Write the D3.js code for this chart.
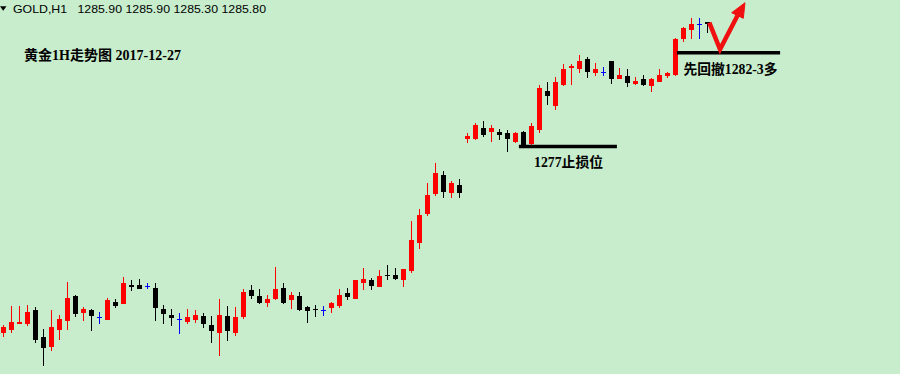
<!DOCTYPE html>
<html>
<head>
<meta charset="utf-8">
<script src="https://cdn.jsdelivr.net/npm/d3@7"></script>
<style>
html,body{margin:0;padding:0;background:#c7edcc;}
svg{display:block;}
</style>
</head>
<body>
<svg id="chart" width="900" height="374"></svg>
<script>
// ---- data (GOLD H1) ----
const symbol = "GOLD,H1";
const lastBar = ["1285.90", "1285.90", "1285.30", "1285.80"];
const title = "黄金1H走势图 2017-12-27";
const stopLabel = "1277止损位";
const buyLabel = "先回撤1282-3多";

const opens = [1268.15,1268.30,1268.66,1268.65,1269.45,1267.89,1267.31,1268.30,1268.82,1270.26,
1269.26,1269.45,1269.06,1268.87,1269.92,1269.81,1270.89,1270.87,1270.83,1270.70,
1269.49,1269.16,1268.91,1268.78,1268.87,1269.10,1268.59,1268.15,1269.10,1268.15,
1269.03,1270.59,1270.25,1269.83,1270.07,1270.70,1270.02,1270.25,1269.63,1269.50,
1269.45,1269.54,1269.67,1270.43,1270.07,1270.97,1271.16,1270.78,1271.46,1271.46,
1271.16,1271.69,1273.29,1274.93,1276.07,1277.16,1276.15,1276.59,1279.20,1279.22,
1279.83,1279.60,1279.63,1279.58,1279.03,1279.63,1278.93,1279.73,1281.98,1281.10,
1282.30,1283.27,1283.22,1283.79,1282.97,1283.03,1283.65,1282.65,1282.82,1282.34,
1282.63,1282.26,1282.49,1282.82,1282.87,1284.91,1285.45,1285.79,1285.90];
const highs = [1268.59,1269.69,1269.69,1269.73,1269.60,1268.34,1269.45,1269.16,1271.06,1270.30,
1269.60,1269.50,1269.35,1270.11,1270.07,1271.31,1271.16,1271.22,1271.01,1271.01,
1269.73,1269.49,1269.26,1269.49,1269.45,1269.29,1269.10,1270.06,1269.69,1269.63,
1270.64,1270.87,1270.63,1270.30,1271.89,1271.01,1270.46,1270.46,1269.67,1269.73,
1269.67,1269.92,1270.63,1270.69,1271.18,1271.83,1271.29,1271.73,1272.02,1271.83,
1271.80,1274.55,1275.20,1276.69,1277.86,1277.39,1276.82,1276.93,1279.54,1280.15,
1280.25,1280.02,1279.77,1279.73,1279.63,1279.65,1280.11,1282.30,1282.49,1282.74,
1283.50,1283.50,1284.02,1283.92,1283.58,1283.35,1283.69,1283.26,1283.20,1282.78,
1282.87,1282.72,1283.20,1283.06,1284.97,1285.63,1286.11,1286.11,1285.90];
const lows = [1267.92,1268.15,1268.63,1268.55,1267.54,1266.25,1267.12,1267.73,1268.30,1269.06,
1268.82,1268.25,1268.65,1268.85,1269.54,1269.80,1270.53,1270.65,1270.63,1268.82,
1268.65,1268.53,1268.07,1268.65,1268.72,1268.43,1267.54,1266.82,1267.67,1267.96,
1268.91,1270.06,1269.79,1269.63,1270.02,1269.79,1269.50,1269.41,1268.69,1269.06,
1269.10,1269.29,1269.58,1270.02,1270.05,1270.59,1270.59,1270.76,1271.16,1271.16,
1270.78,1271.58,1272.91,1274.83,1275.96,1275.83,1275.83,1275.83,1279.01,1279.16,
1279.31,1279.06,1279.16,1278.49,1278.97,1278.80,1278.87,1279.58,1281.13,1280.87,
1282.26,1282.30,1282.97,1282.69,1282.83,1282.82,1282.34,1282.63,1282.21,1282.30,
1282.26,1281.92,1282.46,1282.69,1282.82,1284.78,1284.91,1284.91,1285.30];
const closes = [1268.49,1268.76,1268.78,1269.35,1267.73,1267.29,1268.49,1268.93,1270.15,1269.22,
1269.50,1269.12,1269.06,1270.02,1269.69,1271.01,1270.78,1270.66,1270.83,1269.58,
1269.22,1269.01,1268.91,1269.06,1269.16,1268.65,1268.25,1269.16,1268.26,1269.06,
1270.49,1270.26,1269.83,1270.07,1270.64,1269.83,1270.32,1269.45,1269.41,1269.43,
1269.45,1269.86,1270.30,1270.17,1271.16,1271.22,1270.83,1271.41,1271.39,1271.22,
1271.79,1273.44,1274.87,1276.02,1277.29,1276.21,1276.72,1276.11,1279.39,1280.02,
1279.45,1279.83,1279.45,1279.20,1279.54,1278.82,1279.98,1282.11,1281.67,1282.49,
1283.22,1283.39,1283.69,1283.06,1283.22,1283.03,1282.63,1282.87,1282.43,1282.55,
1282.30,1282.65,1282.87,1282.97,1284.91,1285.54,1285.79,1285.79,1285.80];

// annotation levels (price) and spans (bar index)
const stopLevel = 1278.79, stopSpan = [64.45, 76.7];
const buyLevel = 1284.15, buySpan = [84.2, 97.1];
const arrowShaft = [[88.25,1285.86],[89.59,1284.34],[91.78,1286.27]];
const arrowHead = [[91.05,1286.43],[92.71,1287.00],[92.50,1286.11]];

// ---- drawing ----
const W = 900, H = 374;
const svg = d3.select("#chart");
svg.append("rect").attr("width", W).attr("height", H).attr("fill", "#c7edcc");

const x = d3.scaleLinear().domain([0, 88]).range([3.3, 707.3]);
const y = d3.scaleLinear().domain([1264, 1286]).range([405.25, 20.25]);

const bars = opens.map((o, i) => ({i, o, h: highs[i], l: lows[i], c: closes[i]}));
const colorOf = d => d.c > d.o ? "#ff0000" : (d.c < d.o ? "#000000" : "#0000ff");

const g = svg.append("g").attr("shape-rendering", "crispEdges");
const cw = 5;
g.selectAll("line.wick").data(bars).join("line")
  .attr("class", "wick")
  .attr("x1", d => Math.round(x(d.i)) + 0.5).attr("x2", d => Math.round(x(d.i)) + 0.5)
  .attr("y1", d => y(d.h)).attr("y2", d => y(d.l))
  .attr("stroke", colorOf).attr("stroke-width", 1);
g.selectAll("rect.body").data(bars).join("rect")
  .attr("class", "body")
  .attr("x", d => Math.round(x(d.i)) - 2)
  .attr("width", cw)
  .attr("y", d => y(Math.max(d.o, d.c)))
  .attr("height", d => Math.max(1, y(Math.min(d.o, d.c)) - y(Math.max(d.o, d.c))))
  .attr("fill", colorOf);

// annotation lines
svg.append("line")
  .attr("x1", x(stopSpan[0])).attr("x2", x(stopSpan[1]))
  .attr("y1", y(stopLevel)).attr("y2", y(stopLevel))
  .attr("stroke", "#000").attr("stroke-width", 3.5);
svg.append("line")
  .attr("x1", x(buySpan[0])).attr("x2", x(buySpan[1]))
  .attr("y1", y(buyLevel)).attr("y2", y(buyLevel))
  .attr("stroke", "#000").attr("stroke-width", 3.5);

// red arrow
const lineGen = d3.line().x(d => x(d[0])).y(d => y(d[1]));
svg.append("path").attr("d", lineGen(arrowShaft))
  .attr("fill", "none").attr("stroke", "#f01010").attr("stroke-width", 4.5)
  .attr("stroke-linejoin", "miter");
svg.append("path").attr("d", lineGen(arrowHead) + "Z")
  .attr("fill", "#f01010").attr("stroke", "#f01010").attr("stroke-width", 1);

// header
svg.append("path").attr("d", "M0,6.2L6.5,6.2L3.2,10.8Z").attr("fill", "#000");
svg.append("text").attr("x", 13).attr("y", 13)
  .attr("font-family", "'Liberation Sans', Arial, sans-serif").attr("font-size", 11.5)
  .attr("fill", "#000")
  .style("white-space", "pre")
  .attr("textLength", 253).attr("lengthAdjust", "spacingAndGlyphs")
  .text(symbol + "   " + lastBar.join(" "));

const serif = "'Liberation Serif', 'DejaVu Serif', 'Noto Sans CJK SC', serif";
svg.append("text").attr("x", 24).attr("y", 59.5)
  .attr("font-family", serif).attr("font-size", 14).attr("font-weight", "bold")
  .attr("fill", "#000")
  .attr("textLength", 157).attr("lengthAdjust", "spacingAndGlyphs")
  .text(title);
svg.append("text").attr("x", 534).attr("y", 166.5)
  .attr("font-family", serif).attr("font-size", 14).attr("font-weight", "bold")
  .attr("fill", "#000")
  .attr("textLength", 69).attr("lengthAdjust", "spacingAndGlyphs")
  .text(stopLabel);
svg.append("text").attr("x", 683.5).attr("y", 73.5)
  .attr("font-family", serif).attr("font-size", 14).attr("font-weight", "bold")
  .attr("fill", "#000")
  .attr("textLength", 94).attr("lengthAdjust", "spacingAndGlyphs")
  .text(buyLabel);
</script>
</body>
</html>
